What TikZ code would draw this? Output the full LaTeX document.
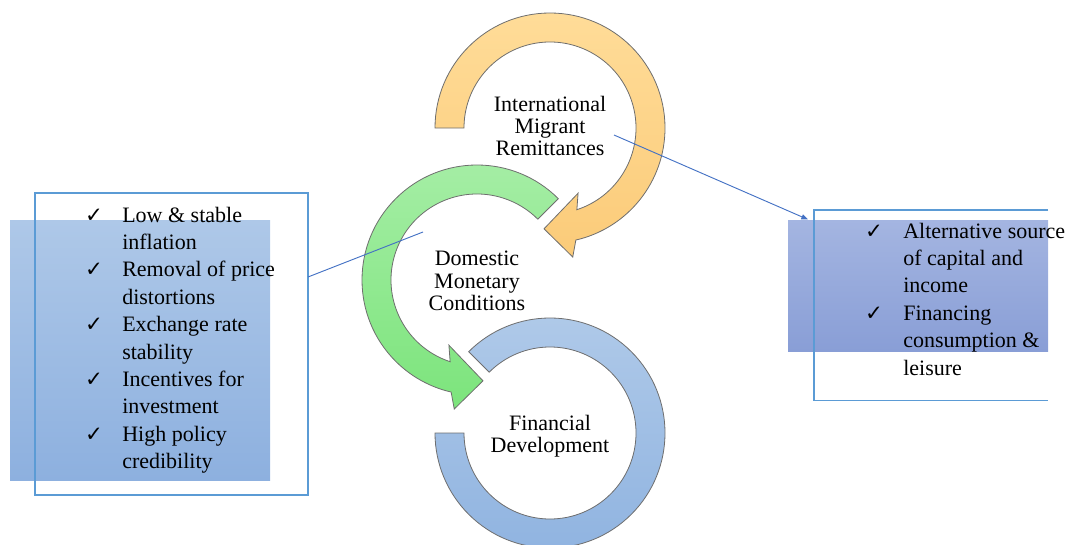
\documentclass[tikz,border=0pt]{standalone}
\usepackage{fontspec}
\setmainfont{Liberation Serif}
\newfontfamily\symfont{DejaVu Sans}
\usetikzlibrary{calc,arrows.meta}

\definecolor{ringline}{HTML}{6E6E6E}
\definecolor{orangetop}{HTML}{FFDC98}
\definecolor{orangebot}{HTML}{FBCB79}
\definecolor{greentop}{HTML}{A6EEA6}
\definecolor{greenbot}{HTML}{7CE47C}
\definecolor{bluetop}{HTML}{B0CAE9}
\definecolor{bluebot}{HTML}{8FB3E0}
\definecolor{lboxtop}{HTML}{AEC8E8}
\definecolor{lboxbot}{HTML}{8DB0DF}
\definecolor{rboxtop}{HTML}{A4B5E1}
\definecolor{rboxbot}{HTML}{899ED6}
\definecolor{frameblue}{HTML}{5B9BD5}
\definecolor{linkblue}{HTML}{4472C4}

\tikzset{
  ring/.style={draw=ringline, line width=0.6pt, line join=miter},
  ringlabel/.style={align=center, inner sep=0pt,
    font=\fontsize{16.5}{16.8}\selectfont},
  listline/.style={anchor=base west, inner sep=0pt,
    font=\fontsize{16.5}{20}\selectfont},
  tick/.style={anchor=base, inner sep=0pt, font=\symfont\fontsize{16}{18}\selectfont},
  frame/.style={draw=frameblue, line width=0.8pt},
  link/.style={draw=linkblue, line width=0.7pt},
}

\begin{document}
\begin{tikzpicture}[x=0.75pt, y=0.75pt]
\useasboundingbox (0,0) rectangle (1067,544);

% ---------- left box ----------
\fill[top color=lboxtop, bottom color=lboxbot] (10,324) rectangle (270,64);
\draw[frame] (35,351) rectangle (308,49);

% ---------- right box ----------
\fill[top color=rboxtop, bottom color=rboxbot] (788,324) rectangle (1048,193);
\draw[frame] (1048,334) -- (814,334) -- (814,143.3) -- (1048,143.3);

% ---------- ring centres ----------
\coordinate (O) at (550,416);
\coordinate (G) at (477,264);
\coordinate (B) at (550,111);

% blue ring (no head)
\draw[ring, top color=bluetop, bottom color=bluebot]
  ($(B)+(135:115)$) arc[start angle=135, end angle=-180, radius=115]
  -- ($(B)+(180:86)$) arc[start angle=180, end angle=495, radius=86] -- cycle;

% green circular arrow
\draw[ring, top color=greentop, bottom color=greenbot]
  ($(G)+(45:115)$) arc[start angle=45, end angle=257, radius=115]
  -- ($(G)+(260:131)$) -- ($(G)+(273.4:101)$) -- ($(G)+(246.7:71)$)
  -- ($(G)+(251.8:86)$) arc[start angle=251.8, end angle=45, radius=86] -- cycle;

% orange circular arrow
\draw[ring, top color=orangetop, bottom color=orangebot]
  ($(O)+(180:115)$) arc[start angle=180, end angle=-77, radius=115]
  -- ($(O)+(-80:131)$) -- ($(O)+(-93.4:101)$) -- ($(O)+(-66.7:71)$)
  -- ($(O)+(-71.8:86)$) arc[start angle=-71.8, end angle=180, radius=86] -- cycle;

% ---------- ring labels ----------
\node[ringlabel] (imr) at (550,418) {International\\Migrant\\Remittances};
\node[ringlabel] (dmc) at (477,263) {Domestic\\Monetary\\Conditions};
\node[ringlabel] (fd)  at (550,107.5) {Financial\\Development};

% ---------- left list ----------
\node[tick] (lt1) at (94,322)   {✓};
\node[tick] (lt2) at (94,267.2) {✓};
\node[tick] (lt3) at (94,212.4) {✓};
\node[tick] (lt4) at (94,157.6) {✓};
\node[tick] (lt5) at (94,102.8) {✓};
\node[listline] (l1)  at (122,322)   {Low \& stable};
\node[listline] (l2)  at (122,294.6) {inflation};
\node[listline] (l3)  at (122,267.2) {Removal of price};
\node[listline] (l4)  at (122,239.8) {distortions};
\node[listline] (l5)  at (122,212.4) {Exchange rate};
\node[listline] (l6)  at (122,185)   {stability};
\node[listline] (l7)  at (122,157.6) {Incentives for};
\node[listline] (l8)  at (122,130.2) {investment};
\node[listline] (l9)  at (122,102.8) {High policy};
\node[listline] (l10) at (122,75.4)  {credibility};

% ---------- right list ----------
\node[tick] (rt1) at (874,306)   {✓};
\node[tick] (rt2) at (874,223.8) {✓};
\node[listline] (r1) at (903,306)   {Alternative source};
\node[listline] (r2) at (903,278.6) {of capital and};
\node[listline] (r3) at (903,251.2) {income};
\node[listline] (r4) at (903,223.8) {Financing};
\node[listline] (r5) at (903,196.4) {consumption \&};
\node[listline] (r6) at (903,169)   {leisure};

% ---------- connectors ----------
\coordinate (lfrom) at (308,267);
\coordinate (lto)   at (423,312);
\coordinate (rfrom) at (614,409);
\coordinate (rto)   at (808,324.5);
\draw[link] (lfrom) -- (lto);
\draw[link, -{Triangle[length=5pt, width=4pt]}] (rfrom) -- (rto);
\end{tikzpicture}
\end{document}
